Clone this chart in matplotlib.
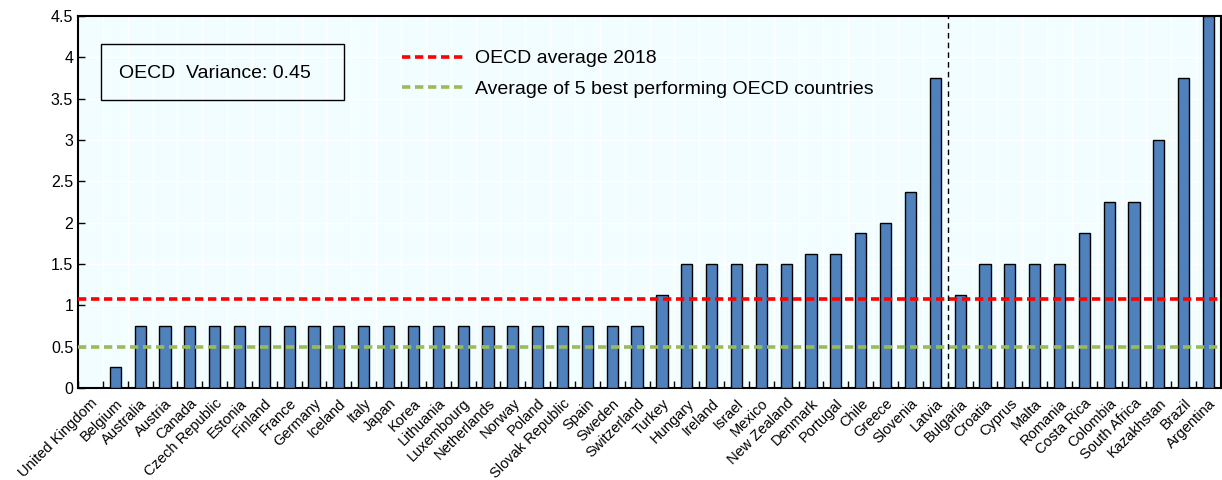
import matplotlib
matplotlib.use("Agg")
import matplotlib.pyplot as plt
from matplotlib.patches import Rectangle
import numpy as np

countries = ["United Kingdom", "Belgium", "Australia", "Austria", "Canada", "Czech Republic",
             "Estonia", "Finland", "France", "Germany", "Iceland", "Italy", "Japan", "Korea",
             "Lithuania", "Luxembourg", "Netherlands", "Norway", "Poland", "Slovak Republic",
             "Spain", "Sweden", "Switzerland", "Turkey", "Hungary", "Ireland", "Israel",
             "Mexico", "New Zealand", "Denmark", "Portugal", "Chile", "Greece", "Slovenia",
             "Latvia", "Bulgaria", "Croatia", "Cyprus", "Malta", "Romania", "Costa Rica",
             "Colombia", "South Africa", "Kazakhstan", "Brazil", "Argentina"]
values = [0, 0.25, 0.75, 0.75, 0.75, 0.75, 0.75, 0.75, 0.75, 0.75, 0.75, 0.75, 0.75, 0.75,
          0.75, 0.75, 0.75, 0.75, 0.75, 0.75, 0.75, 0.75, 0.75, 1.125, 1.5, 1.5, 1.5,
          1.5, 1.5, 1.625, 1.625, 1.875, 2.0, 2.375,
          3.75, 1.125, 1.5, 1.5, 1.5, 1.5, 1.875,
          2.25, 2.25, 3.0, 3.75, 4.5]
oecd_average = 1.08
best5_average = 0.5
n_oecd = 35
variance_text = "OECD  Variance: 0.45"

plt.rcParams['font.family'] = ['Liberation Sans', 'DejaVu Sans']

fig = plt.figure(figsize=(12.22, 4.8), dpi=100)
ax = fig.add_axes([78/1222, 1 - 388/480, (1221 - 78)/1222, (388 - 16)/480])
ax.set_facecolor('#F2FDFF')

x = np.arange(len(countries))
ax.bar(x, values, width=0.45, color='#4F81BD', edgecolor='black', linewidth=1.0, zorder=3)

dash = (0, (2.3, 1.3))
ax.axhline(oecd_average, color='#FF0000', linestyle=dash, linewidth=2.6, zorder=4,
           label='OECD average 2018')
ax.axhline(best5_average, color='#9BBB59', linestyle=dash, linewidth=2.6, zorder=4,
           label='Average of 5 best performing OECD countries')
ax.axvline(n_oecd - 0.5, color='black', linestyle=(0, (4, 3)), linewidth=1.0, zorder=4)

ax.set_xlim(-0.5, len(countries) - 0.5)
ax.set_ylim(0, 4.5)
ax.set_yticks(np.arange(0, 4.51, 0.5))
ax.set_yticklabels(['0', '0.5', '1', '1.5', '2', '2.5', '3', '3.5', '4', '4.5'], fontsize=11.5)

ax.set_xticks(np.arange(len(countries) + 1) - 0.5)
ax.set_xticklabels([])
ax.set_xticks(x, minor=True)
ax.set_xticklabels(countries, minor=True, rotation=45, ha='right', rotation_mode='anchor',
                   fontsize=10.5)
ax.tick_params(axis='x', which='major', direction='in', length=5, width=1, top=False)
ax.tick_params(axis='x', which='minor', length=0, pad=6)
ax.tick_params(axis='y', direction='in', length=5, width=1, labelsize=11.5)

ax.grid(True, which='major', color='white', linewidth=1.0, zorder=0)
ax.set_axisbelow(True)
for s in ax.spines.values():
    s.set_linewidth(1.5)
    s.set_color('black')

leg = ax.legend(loc='upper left', bbox_to_anchor=(0.2833, 0.909), frameon=False, fontsize=14,
                handlelength=3.3, handletextpad=0.45, labelspacing=0.65, borderpad=0.0,
                borderaxespad=0.0)

ax.add_patch(Rectangle((0.0201, 0.774), 0.2126, 0.1505, transform=ax.transAxes,
                       facecolor='none', edgecolor='black', linewidth=1.0, zorder=5))
ax.text(0.0359, 0.845, variance_text, fontsize=14, ha='left', va='center',
        transform=ax.transAxes, zorder=5)

fig.savefig('out.png', dpi=100)
